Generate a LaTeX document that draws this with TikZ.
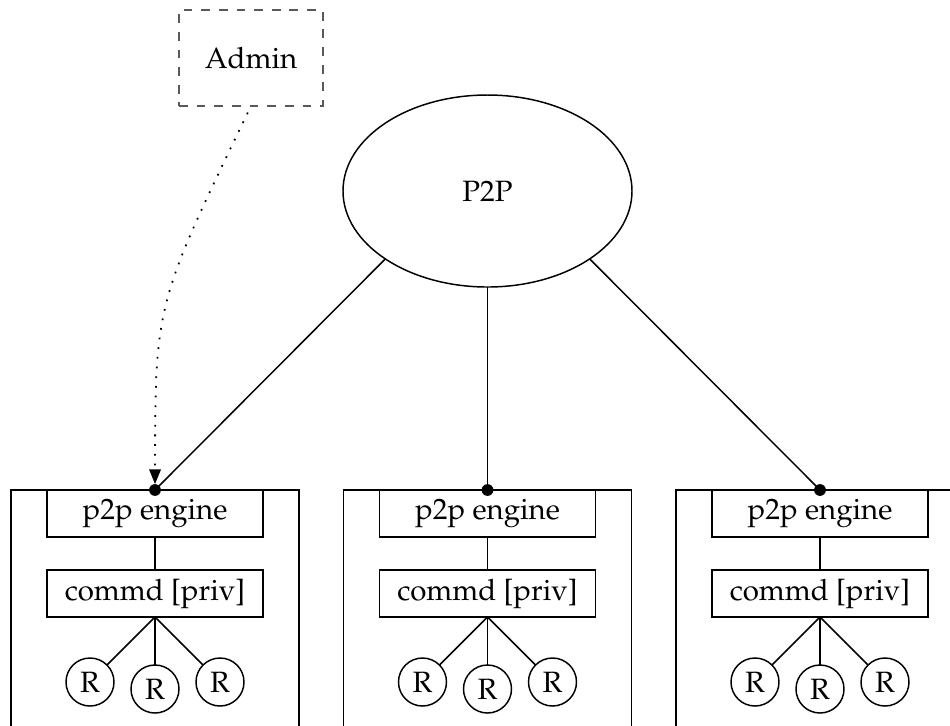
\documentclass[tikz,border=0pt]{standalone}
\usepackage[T1]{fontenc}
\usepackage{mathpazo}
\usetikzlibrary{shapes.geometric,arrows.meta}
\begin{document}
\begin{tikzpicture}[x=0.34pt,y=-0.34pt,line width=0.5pt,
  boxnode/.style={draw,rectangle,minimum width=73.44pt,minimum height=15.98pt,inner sep=0pt,outer sep=0pt,anchor=north},
  container/.style={draw,rectangle,minimum width=97.92pt,minimum height=102pt,inner sep=0pt,outer sep=0pt,anchor=north},
  rnode/.style={draw,circle,minimum size=16.32pt,inner sep=0pt,outer sep=0pt},
  dotnode/.style={circle,fill=black,minimum size=4pt,inner sep=0pt,outer sep=0pt},
  adminbox/.style={draw=black!65,dashed,rectangle,minimum width=48.96pt,minimum height=32.64pt,inner sep=0pt,outer sep=0pt},
  cloud/.style={draw,ellipse,minimum width=98.26pt,minimum height=65.28pt,inner sep=0pt,outer sep=0pt},
  link/.style={draw=black},
  adminlink/.style={draw=black,line width=0.6pt,dash pattern=on 0.6pt off 2.7pt,shorten <=2.5pt,-{Triangle[length=5pt,width=3.9pt]}}]
\useasboundingbox (0,0) rectangle (950,725);
\clip (0,0) rectangle (950,725);
\node[adminbox] (admin) at (251,58) {Admin};
\node[cloud] (p2p) at (487.5,191) {P2P};
\foreach \i/\x in {1/155,2/487.5,3/820} {
  \node[container] (c\i) at (\x,490) {};
  \node[boxnode] (e\i) at (\x,490) {p2p engine};
  \node[boxnode] (m\i) at (\x,570) {commd [priv]};
  \node[rnode] (ra\i) at (\x-65,682) {R};
  \node[rnode] (rb\i) at (\x,689) {R};
  \node[rnode] (rc\i) at (\x+65,682) {R};
  \draw[link] (e\i.south) -- (m\i.north);
  \draw[link] (m\i.south) -- (ra\i);
  \draw[link] (m\i.south) -- (rb\i);
  \draw[link] (m\i.south) -- (rc\i);
  \coordinate (t\i) at (c\i.north);
}
\draw[link] (p2p.south west) -- (t1);
\draw[link] (p2p.south) -- (t2);
\draw[link] (p2p.south east) -- (t3);
\foreach \i in {1,2,3} { \node[dotnode] (d\i) at (t\i) {}; }
\draw[adminlink] (admin.south) .. controls (155.3,304) .. (d1.north);
\end{tikzpicture}
\end{document}
